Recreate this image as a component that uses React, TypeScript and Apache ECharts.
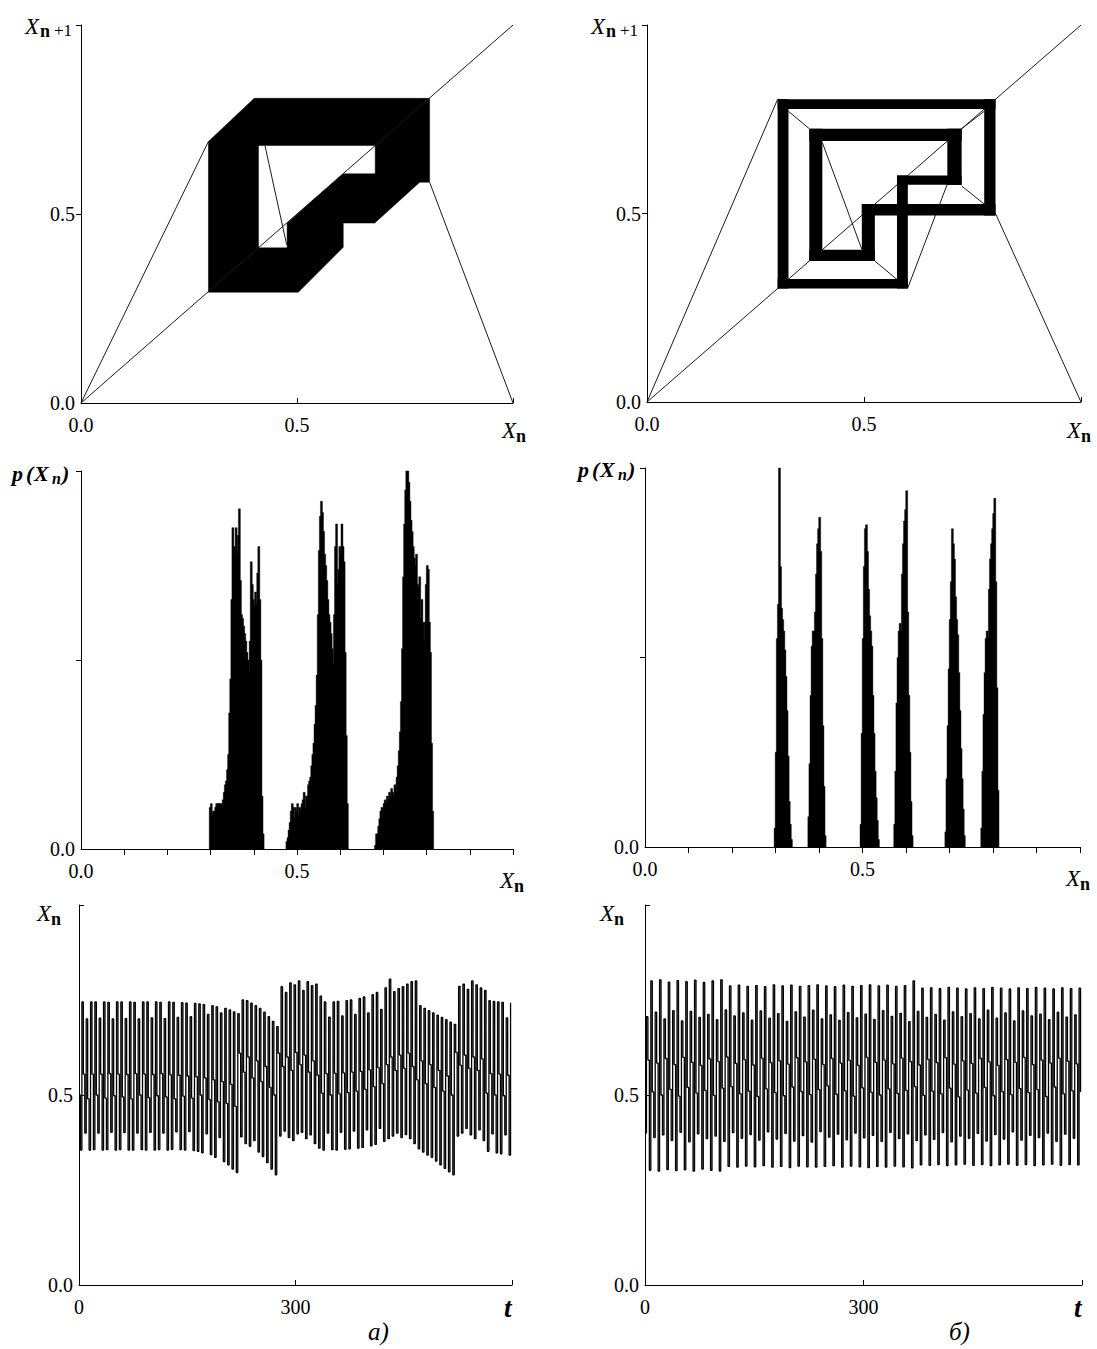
import React, { useEffect, useRef } from "react";
import * as echarts from "echarts";

const SERIF = "Liberation Serif";

// ---------- return maps (unit square) ----------
const mapTickValues = [0.5, 1];
const mapLabelValues = [0, 0.5];

// three-band attractor: filled band region and the hole inside it
const bandOuter = [
  [0.295, 0.692], [0.401, 0.806], [0.807, 0.806], [0.807, 0.584], [0.784, 0.584],
  [0.68, 0.476], [0.607, 0.476], [0.607, 0.412], [0.503, 0.293], [0.295, 0.293],
];
const bandHole = [
  [0.412, 0.68], [0.68, 0.68], [0.68, 0.608], [0.607, 0.608], [0.476, 0.476],
  [0.476, 0.412], [0.412, 0.412],
];
// thin lines: bisector, map branches [x1, y1, x2, y2]
const bandMapLines = [
  [0, 0, 1, 1],
  [0, 0, 0.295, 0.692],
  [0.807, 0.584, 1, 0],
  [0.426, 0.68, 0.476, 0.419],
];

// six-band attractor: cobweb strips [xMin, xMax, yMin, yMax]
const cobwebStrips = [
  [0.301, 0.326, 0.301, 0.803],
  [0.301, 0.803, 0.777, 0.803],
  [0.777, 0.803, 0.495, 0.803],
  [0.495, 0.803, 0.495, 0.525],
  [0.495, 0.525, 0.374, 0.525],
  [0.374, 0.525, 0.374, 0.404],
  [0.374, 0.404, 0.374, 0.725],
  [0.374, 0.725, 0.692, 0.725],
  [0.692, 0.725, 0.576, 0.725],
  [0.576, 0.725, 0.576, 0.601],
  [0.576, 0.601, 0.301, 0.601],
  [0.301, 0.601, 0.301, 0.326],
];
const cobwebMapLines = [
  [0, 0, 1, 1],
  [0, 0, 0.301, 0.803],
  [0.803, 0.5, 1, 0],
  [0.326, 0.771, 0.374, 0.725],
  [0.777, 0.771, 0.725, 0.725],
  [0.777, 0.525, 0.725, 0.573],
  [0.525, 0.374, 0.576, 0.325],
  [0.404, 0.688, 0.495, 0.405],
  [0.601, 0.303, 0.692, 0.578],
];

// ---------- histograms p(Xn), heights in % of the maximum ----------
const BIN = 0.0025;
const histTickValues = [0.1, 0.2, 0.3, 0.4, 0.5, 0.6, 0.7, 0.8, 0.9, 1.0];
const histLabelValues = [0, 0.5];

const histA1Start = 0.2975;
const histA1 = [11, 12, 9, 10, 10, 11, 12, 12, 12, 12, 12, 11, 13, 15, 17, 18, 21, 25, 36, 45, 66, 85, 80, 78, 85, 79, 83, 90, 71, 62, 61, 59, 57, 55, 52, 50, 47, 55, 76, 70, 66, 64, 68, 65, 73, 80, 66, 50, 14, 4];
const histA2Start = 0.475;
const histA2 = [2, 3, 5, 7, 10, 12, 11, 8, 11, 10, 12, 9, 11, 10, 12, 13, 15, 11, 14, 14, 17, 18, 19, 22, 25, 28, 33, 38, 46, 62, 79, 88, 92, 89, 84, 78, 75, 71, 66, 62, 60, 57, 53, 49, 62, 80, 86, 70, 74, 80, 78, 86, 80, 76, 52, 30, 12];
const histA3Start = 0.68;
const histA3 = [1, 4, 4, 6, 8, 10, 11, 10, 12, 13, 12, 14, 13, 15, 14, 16, 15, 14, 17, 16, 19, 22, 26, 31, 39, 53, 72, 86, 95, 100, 100, 97, 92, 87, 84, 80, 77, 75, 78, 70, 69, 72, 61, 66, 60, 55, 60, 70, 75, 74, 60, 52, 28, 10];

const histB1Start = 0.2975;
const histB1 = [5, 25, 55, 64, 100, 74, 63, 60, 57, 52, 45, 36, 24, 12, 6, 2];
const histB2Start = 0.375;
const histB2 = [8, 22, 40, 53, 57, 57, 62, 72, 80, 84, 87, 78, 55, 32, 16, 3];
const histB3Start = 0.495;
const histB3 = [6, 30, 55, 74, 84, 85, 78, 68, 61, 57, 53, 40, 30, 20, 13, 7, 2];
const histB4Start = 0.5725;
const histB4 = [6, 20, 38, 50, 57, 59, 57, 72, 80, 86, 89, 94, 62, 40, 25, 12, 3];
const histB5Start = 0.69;
const histB5 = [4, 18, 32, 47, 60, 70, 84, 80, 76, 66, 60, 56, 46, 36, 26, 18, 10, 3];
const histB6Start = 0.7725;
const histB6 = [5, 20, 35, 46, 55, 57, 55, 68, 76, 80, 84, 88, 92, 70, 42, 15];

// ---------- time series Xn(t), thousandths, one value every T_STEP ----------
const T_STEP = 2;
const timeTickValues = [300, 600];
const timeLabelValues = [0, 300];

const seriesA = [
  500, 355, 745, 555, 400, 700, 490, 355, 745, 555, 356, 745, 500, 400, 702,
  555, 355, 745, 492, 356, 744, 556, 402, 700, 498, 355, 745, 555, 356, 745,
  495, 401, 701, 554, 355, 745, 490, 355, 744, 556, 400, 700, 500, 356, 745,
  555, 355, 745, 493, 402, 703, 554, 355, 745, 498, 356, 744, 556, 400, 701,
  495, 355, 745, 553, 357, 744, 490, 403, 704, 552, 356, 743, 497, 355, 742,
  550, 404, 706, 492, 354, 741, 548, 352, 740, 500, 348, 738, 545, 398, 712,
  488, 343, 735, 540, 336, 732, 482, 388, 716, 535, 325, 728, 478, 316, 724,
  528, 305, 719, 470, 296, 714, 610, 390, 750, 560, 372, 748, 600, 365, 742,
  545, 380, 735, 590, 350, 728, 535, 338, 718, 575, 322, 706, 520, 305, 694,
  500, 290, 680, 610, 392, 785, 575, 405, 770, 600, 388, 795, 565, 380, 790,
  612, 398, 800, 580, 402, 775, 605, 385, 798, 560, 395, 788, 590, 372, 792,
  552, 360, 760, 505, 355, 745, 556, 400, 705, 500, 356, 745, 557, 355, 746,
  503, 402, 708, 558, 357, 748, 506, 358, 750, 560, 405, 712, 510, 360, 754,
  562, 362, 758, 515, 408, 716, 566, 366, 764, 522, 370, 770, 572, 412, 725,
  530, 378, 782, 580, 385, 805, 600, 392, 772, 565, 400, 780, 605, 388, 785,
  570, 396, 792, 610, 385, 798, 575, 372, 800, 540, 358, 735, 590, 350, 728,
  530, 342, 722, 580, 336, 716, 520, 326, 710, 565, 316, 704, 510, 307, 698,
  550, 298, 692, 500, 290, 686, 612, 392, 786, 578, 400, 792, 605, 412, 778,
  570, 395, 800, 600, 385, 790, 565, 408, 782, 595, 380, 775, 505, 352, 748,
  556, 398, 746, 500, 348, 745, 555, 345, 744, 498, 395, 703, 552, 342, 743,
];

const seriesB = [
  400, 706, 592, 302, 800, 508, 388, 718, 584, 300, 803, 500,
  395, 700, 596, 304, 797, 515, 380, 722, 580, 301, 801, 497,
  402, 695, 599, 303, 798, 520, 377, 720, 586, 300, 802, 505,
  398, 704, 578, 305, 796, 512, 385, 712, 595, 302, 800, 499,
  392, 698, 588, 300, 803, 518, 378, 724, 600, 312, 787, 522,
  401, 708, 583, 310, 789, 503, 386, 716, 593, 313, 786, 510,
  396, 697, 579, 311, 788, 496, 381, 721, 597, 314, 785, 516,
  403, 702, 585, 310, 790, 506, 384, 714, 590, 312, 787, 498,
  399, 694, 581, 309, 789, 521, 379, 719, 598, 313, 786, 509,
  393, 705, 587, 311, 788, 501, 376, 723, 594, 310, 790, 514,
  404, 700, 580, 312, 787, 524, 389, 711, 596, 314, 785, 502,
  397, 696, 584, 310, 789, 511, 382, 717, 591, 313, 786, 497,
  400, 703, 578, 311, 788, 519, 387, 713, 599, 309, 790, 507,
  394, 699, 586, 312, 787, 500, 378, 722, 592, 310, 789, 516,
  402, 707, 582, 313, 786, 504, 385, 715, 597, 311, 788, 512,
  398, 693, 588, 308, 800, 522, 380, 720, 579, 316, 781, 499,
  395, 704, 594, 315, 782, 510, 383, 712, 585, 317, 780, 503,
  401, 697, 598, 314, 783, 518, 377, 719, 581, 316, 781, 495,
  392, 706, 590, 318, 779, 513, 386, 714, 583, 315, 782, 505,
  399, 700, 596, 317, 780, 520, 379, 723, 587, 314, 783, 498,
  396, 702, 578, 316, 781, 509, 384, 716, 593, 318, 779, 501,
  403, 695, 586, 315, 782, 517, 381, 721, 599, 317, 780, 506,
  394, 708, 580, 314, 783, 514, 388, 713, 592, 316, 781, 496,
  400, 698, 584, 318, 779, 521, 378, 718, 597, 315, 782, 503,
  397, 705, 589, 317, 780, 511, 386, 711, 582, 316, 781, 508,
];

// ---------- layout ----------
const grids = [
  { left: 81, top: 25, width: 432, height: 378 },
  { left: 647, top: 25, width: 434, height: 377 },
  { left: 81, top: 471, width: 432, height: 378 },
  { left: 645, top: 468, width: 435, height: 379 },
  { left: 79, top: 905, width: 433, height: 380 },
  { left: 645, top: 905, width: 437, height: 380 },
];

const near = (a: number, b: number) => Math.abs(a - b) < 1e-6;

function xAxisFor(i: number) {
  const isTime = i >= 4;
  const isHist = i === 2 || i === 3;
  const tickVals = isTime ? timeTickValues : isHist ? histTickValues : mapTickValues;
  const labelVals = isTime ? timeLabelValues : isHist ? histLabelValues : mapLabelValues;
  return {
    type: "value",
    gridIndex: i,
    min: 0,
    max: isTime ? 600 : 1,
    interval: isTime ? 300 : isHist ? 0.1 : 0.5,
    splitLine: { show: false },
    axisLine: { show: true, onZero: false, lineStyle: { color: "#000", width: 1 } },
    axisTick: {
      show: true,
      inside: !isHist,
      length: isHist ? 6 : 5,
      customValues: tickVals,
      lineStyle: { color: "#000", width: 1 },
    },
    axisLabel: {
      show: true,
      customValues: labelVals,
      margin: 12,
      color: "#000",
      fontFamily: SERIF,
      fontSize: 20,
      formatter: (v: number) => {
        if (!labelVals.some((u) => near(u, v))) return "";
        return isTime ? String(Math.round(v)) : v.toFixed(1);
      },
    },
  };
}

function yAxisFor(i: number) {
  const isTime = i >= 4;
  const isHist = i === 2 || i === 3;
  const labelVals = isHist ? [0] : [0, 0.5];
  return {
    type: "value",
    gridIndex: i,
    min: 0,
    max: 1,
    interval: 0.5,
    splitLine: { show: false },
    axisLine: { show: true, onZero: false, lineStyle: { color: "#000", width: 1 } },
    axisTick: {
      show: true,
      inside: isTime,
      length: 5,
      customValues: [0.5, 1],
      lineStyle: { color: "#000", width: 1 },
    },
    axisLabel: {
      show: true,
      customValues: labelVals,
      margin: 6,
      color: "#000",
      fontFamily: SERIF,
      fontSize: 20,
      formatter: (v: number) => (labelVals.some((u) => near(u, v)) ? v.toFixed(1) : ""),
    },
  };
}

function polygonSeries(points: number[][], idx: number, fill: string, z: number) {
  return {
    type: "custom",
    xAxisIndex: idx,
    yAxisIndex: idx,
    z,
    silent: true,
    data: points,
    renderItem: (params: any, api: any) =>
      params.dataIndex === 0
        ? {
            type: "polygon",
            shape: { points: points.map((p) => api.coord(p)) },
            style: { fill, stroke: fill, lineWidth: 0.5 },
          }
        : null,
  };
}

function segmentSeries(segs: number[][], idx: number, z: number) {
  return {
    type: "custom",
    xAxisIndex: idx,
    yAxisIndex: idx,
    z,
    silent: true,
    data: segs,
    renderItem: (_p: any, api: any) => {
      const a = api.coord([api.value(0), api.value(1)]);
      const b = api.coord([api.value(2), api.value(3)]);
      return {
        type: "line",
        shape: { x1: a[0], y1: a[1], x2: b[0], y2: b[1] },
        style: { stroke: "#1a1a1a", lineWidth: 1 },
      };
    },
  };
}

function stripSeries(strips: number[][], idx: number, z: number) {
  return {
    type: "custom",
    xAxisIndex: idx,
    yAxisIndex: idx,
    z,
    silent: true,
    data: strips,
    renderItem: (_p: any, api: any) => {
      const a = api.coord([api.value(0), api.value(3)]);
      const b = api.coord([api.value(1), api.value(2)]);
      return {
        type: "rect",
        shape: { x: a[0], y: a[1], width: b[0] - a[0], height: b[1] - a[1] },
        style: { fill: "#000" },
      };
    },
  };
}

function histSeries(peaks: [number, number[]][], idx: number) {
  const data: number[][] = [];
  peaks.forEach(([start, heights]) =>
    heights.forEach((h, i) => data.push([start + i * BIN, h / 100]))
  );
  return {
    type: "custom",
    xAxisIndex: idx,
    yAxisIndex: idx,
    z: 3,
    silent: true,
    data,
    renderItem: (_p: any, api: any) => {
      const x0 = api.value(0);
      const h = api.value(1);
      const a = api.coord([x0, 0]);
      const b = api.coord([x0 + BIN, h]);
      return {
        type: "rect",
        shape: { x: a[0] - 0.3, y: b[1], width: b[0] - a[0] + 0.9, height: a[1] - b[1] },
        style: { fill: "#000", stroke: "#000", lineWidth: 0.4 },
      };
    },
  };
}

function timeSeries(values: number[], idx: number) {
  return {
    type: "line",
    xAxisIndex: idx,
    yAxisIndex: idx,
    z: 3,
    silent: true,
    step: "end",
    symbol: "none",
    showSymbol: false,
    lineStyle: { color: "#000", width: 1.3 },
    data: values.map((v, i) => [i * T_STEP, v / 1000]),
  };
}

// [text, x, y, size, italic, bold]
type Part = [string, number, number, number, boolean, boolean];
const titleParts: Part[] = [
  ["X", 25, 26, 23, true, false], ["n", 40, 31, 18, false, true], ["+1", 54, 30, 17, false, false],
  ["X", 591, 26, 23, true, false], ["n", 606, 31, 18, false, true], ["+1", 620, 30, 17, false, false],
  ["X", 502, 430, 23, true, false], ["n", 516, 436, 18, false, true],
  ["X", 1067, 430, 23, true, false], ["n", 1081, 436, 18, false, true],
  ["p", 12, 473, 22, true, true], ["(", 26, 473, 22, true, true], ["X", 34, 473, 22, true, true],
  ["n", 52, 478, 16, true, true], [")", 62, 473, 22, true, true],
  ["p", 578, 469, 22, true, true], ["(", 592, 469, 22, true, true], ["X", 600, 469, 22, true, true],
  ["n", 618, 474, 16, true, true], [")", 628, 469, 22, true, true],
  ["X", 500, 880, 23, true, false], ["n", 514, 886, 18, false, true],
  ["X", 1066, 878, 23, true, false], ["n", 1080, 884, 18, false, true],
  ["X", 37, 913, 23, true, false], ["n", 51, 919, 18, false, true],
  ["X", 600, 913, 23, true, false], ["n", 614, 919, 18, false, true],
  ["t", 504, 1308, 27, true, true], ["t", 1074, 1308, 27, true, true],
  ["а)", 368, 1331, 25, true, false], ["б)", 949, 1331, 25, true, false],
];

function buildOption() {
  return {
    animation: false,
    backgroundColor: "#fff",
    grid: grids.map((g) => ({ ...g, show: false, containLabel: false })),
    xAxis: grids.map((_g, i) => xAxisFor(i)),
    yAxis: grids.map((_g, i) => yAxisFor(i)),
    series: [
      segmentSeries(bandMapLines, 0, 5),
      polygonSeries(bandOuter, 0, "#000", 3),
      polygonSeries(bandHole, 0, "#fff", 4),
      segmentSeries(cobwebMapLines, 1, 3),
      stripSeries(cobwebStrips, 1, 4),
      histSeries(
        [
          [histA1Start, histA1],
          [histA2Start, histA2],
          [histA3Start, histA3],
        ],
        2
      ),
      histSeries(
        [
          [histB1Start, histB1],
          [histB2Start, histB2],
          [histB3Start, histB3],
          [histB4Start, histB4],
          [histB5Start, histB5],
          [histB6Start, histB6],
        ],
        3
      ),
      timeSeries(seriesA, 4),
      timeSeries(seriesB, 5),
    ],
    graphic: titleParts.map(([text, x, y, size, italic, bold]) => ({
      type: "text",
      x,
      y,
      silent: true,
      style: {
        text,
        fontSize: size,
        fontFamily: SERIF,
        fontStyle: italic ? "italic" : "normal",
        fontWeight: bold ? "bold" : "normal",
        fill: "#000",
        align: "left",
        textAlign: "left",
        verticalAlign: "middle",
        textVerticalAlign: "middle",
      },
    })),
  };
}

export default function App() {
  const ref = useRef<HTMLDivElement>(null);
  useEffect(() => {
    if (!ref.current) return;
    const chart = echarts.init(ref.current, undefined, { renderer: "svg" });
    chart.setOption(buildOption() as any);
    return () => chart.dispose();
  }, []);
  return (
    <div
      ref={ref}
      style={{ position: "absolute", left: 0, top: 0, width: 1097, height: 1349, background: "#fff" }}
    />
  );
}
